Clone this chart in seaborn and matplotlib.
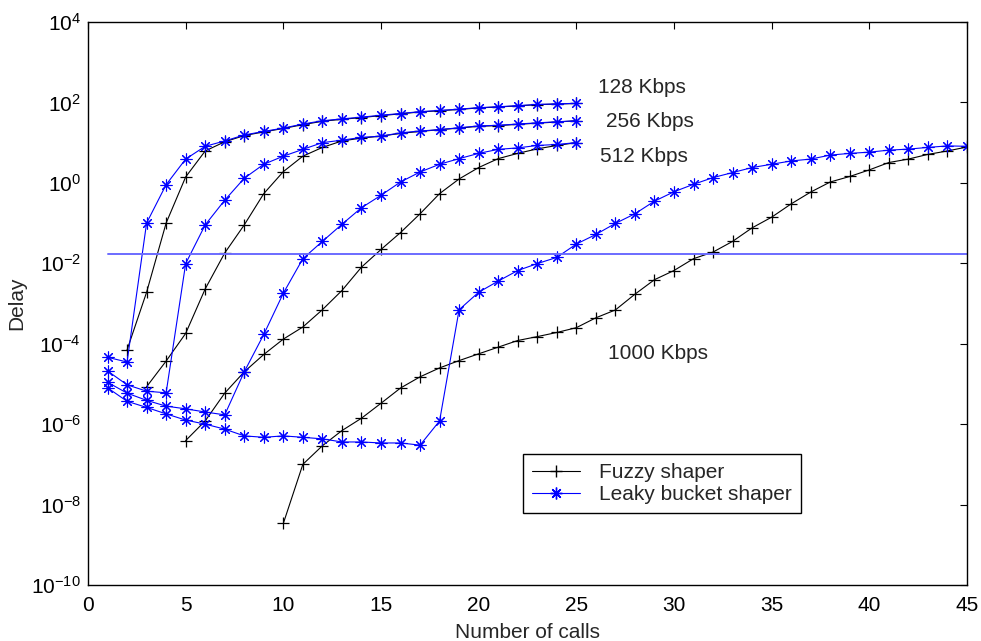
import matplotlib
matplotlib.use("Agg")
import matplotlib.pyplot as plt
from matplotlib.lines import Line2D
from matplotlib.ticker import NullLocator
import seaborn as sns

# delay vs number of calls, fuzzy shaper vs leaky bucket shaper
x_128_leaky = list(range(1, 26))
y_128_leaky = [4.6e-5, 3.5e-5, 0.1, 0.9, 3.9, 8.1, 11, 15.5, 19, 23, 29, 35, 39,
               43, 48, 53, 59, 63, 68, 74, 78, 83, 89, 92, 95]
x_128_fuzzy = list(range(2, 26))
y_128_fuzzy = [7e-5, 1.9e-3, 0.1, 1.4, 6.2, 10.5, 15, 18.5, 22.5, 28, 34, 38,
               42, 47, 52, 58, 62, 67, 73, 77, 82, 88, 91, 94]

x_256_leaky = list(range(1, 26))
y_256_leaky = [2.1e-5, 9.5e-6, 6.6e-6, 6e-6, 0.0098, 0.09, 0.37, 1.3, 2.9, 4.6,
               6.8, 10, 11.5, 13.5, 14.5, 17.5, 19.5, 21, 23.5, 26, 27, 29, 31,
               33, 35]
x_256_fuzzy = list(range(3, 26))
y_256_fuzzy = [8.5e-6, 3.7e-5, 1.8e-4, 2.3e-3, 0.018, 0.09, 0.54, 1.9, 4.6,
               7.6, 11, 13, 14.5, 17, 19, 21, 23, 25.5, 26.5, 28.5, 30.5, 32.5,
               35]

x_512_leaky = list(range(1, 26))
y_512_leaky = [1.1e-5, 5.9e-6, 3.9e-6, 2.8e-6, 2.4e-6, 2e-6, 1.7e-6, 2e-5,
               1.7e-4, 1.8e-3, 0.013, 0.035, 0.093, 0.24, 0.49, 1.05, 1.86,
               2.9, 4, 5.4, 6.8, 7.4, 8.5, 9, 10]
x_512_fuzzy = list(range(5, 26))
y_512_fuzzy = [3.9e-7, 1.2e-6, 5.9e-6, 2e-5, 5.4e-5, 1.3e-4, 2.6e-4, 7e-4,
               2.1e-3, 8e-3, 0.022, 0.058, 0.17, 0.54, 1.25, 2.4, 4, 5.4, 7,
               8.5, 10]

x_1000_leaky = list(range(1, 46))
y_1000_leaky = [8e-6, 3.7e-6, 2.6e-6, 1.8e-6, 1.26e-6, 1e-6, 7.5e-7, 5.1e-7,
                4.7e-7, 5.1e-7, 4.7e-7, 4.3e-7, 3.6e-7, 3.6e-7, 3.4e-7, 3.4e-7,
                3e-7, 1.2e-6, 7e-4, 1.9e-3, 3.6e-3, 6.6e-3, 9.8e-3, 0.014,
                0.03, 0.052, 0.098, 0.17, 0.35, 0.6, 0.92, 1.35, 1.8, 2.4, 2.9,
                3.5, 3.9, 4.9, 5.4, 5.8, 6.5, 6.9, 7.6, 8.3, 8.1]
x_1000_fuzzy = list(range(10, 46))
y_1000_fuzzy = [3.4e-9, 1e-7, 2.9e-7, 6.9e-7, 1.4e-6, 3.3e-6, 7.9e-6, 1.5e-5,
                2.5e-5, 3.8e-5, 5.6e-5, 8.2e-5, 1.2e-4, 1.5e-4, 1.9e-4, 2.5e-4,
                4.4e-4, 6.9e-4, 1.7e-3, 3.9e-3, 6.6e-3, 0.013, 0.019, 0.035,
                0.076, 0.14, 0.3, 0.59, 1.05, 1.44, 2.1, 3.2, 3.9, 5.1, 6.2, 7.8]

# target delay line
x_target = [1, 45]
y_target = [0.017, 0.017]

rate_labels = ["128 Kbps", "256 Kbps", "512 Kbps", "1000 Kbps"]
label_x = [26.1, 26.5, 26.2, 26.6]
label_y = [240, 34, 4.4, 5.8e-5]

ytick_exp = [-10, -8, -6, -4, -2, 0, 2, 4]
xticks = [0, 5, 10, 15, 20, 25, 30, 35, 40, 45]

FS = 15

sns.set_style("white")
plt.rcParams["font.family"] = ["Liberation Sans", "DejaVu Sans"]
plt.rcParams["mathtext.fontset"] = "custom"
plt.rcParams["mathtext.rm"] = "Liberation Sans"
plt.rcParams["mathtext.it"] = "Liberation Sans"
plt.rcParams["mathtext.default"] = "regular"

fig = plt.figure(figsize=(9.81, 6.41), dpi=100)
ax = fig.add_axes([0.0897, 0.0874, 0.8960, 0.8783])

fuzzy = [(x_128_fuzzy, y_128_fuzzy), (x_256_fuzzy, y_256_fuzzy),
         (x_512_fuzzy, y_512_fuzzy), (x_1000_fuzzy, y_1000_fuzzy)]
leaky = [(x_128_leaky, y_128_leaky), (x_256_leaky, y_256_leaky),
         (x_512_leaky, y_512_leaky), (x_1000_leaky, y_1000_leaky)]

star = (8, 2, 0)

for xs, ys in fuzzy:
    sns.lineplot(x=xs, y=ys, ax=ax, color="black", linewidth=0.8,
                 marker="+", markersize=9, markeredgewidth=0.9,
                 markeredgecolor="black", estimator=None, sort=False)

for xs, ys in leaky:
    sns.lineplot(x=xs, y=ys, ax=ax, color="#0000ff", linewidth=0.8,
                 marker=star, markersize=8.5, markeredgewidth=0.8,
                 markeredgecolor="#0000ff", estimator=None, sort=False)

sns.lineplot(x=x_target, y=y_target, ax=ax, color="#6b6bff", linewidth=1.4,
             estimator=None)

for txt, tx, ty in zip(rate_labels, label_x, label_y):
    ax.text(tx, ty, txt, fontsize=FS, va="center", ha="left")

ax.set_yscale("log")
ax.set_xlim(0, 45)
ax.set_ylim(1e-10, 1e4)
ax.set_xticks(xticks)
ax.set_xticklabels([str(t) for t in xticks])
ax.set_yticks([10.0 ** e for e in ytick_exp])
ax.set_yticklabels([r"$10^{%d}$" % e for e in ytick_exp])
ax.yaxis.set_minor_locator(NullLocator())
ax.tick_params(direction="in", top=True, right=True, length=5, width=0.8,
               labelsize=FS, colors="black")
ax.tick_params(axis="x", pad=8)
ax.tick_params(axis="y", pad=5)

for sp in ax.spines.values():
    sp.set_visible(True)
    sp.set_color("black")
    sp.set_linewidth(1.0)

ax.set_xlabel("Number of calls", fontsize=FS, labelpad=6)
ax.set_ylabel("Delay", fontsize=FS, labelpad=4)

handles = [
    Line2D([], [], color="black", linewidth=0.8, marker="+", markersize=9),
    Line2D([], [], color="#0000ff", linewidth=0.8, marker=star, markersize=8.5),
]
leg = ax.legend(handles, ["Fuzzy shaper", "Leaky bucket shaper"],
                loc="lower left", bbox_to_anchor=(0.495, 0.127),
                fontsize=FS, frameon=True, fancybox=False, framealpha=1,
                edgecolor="black", borderpad=0.45, handlelength=2.3,
                handletextpad=0.9, labelspacing=0.15, borderaxespad=0)
leg.get_frame().set_linewidth(1.0)

fig.savefig("out.png", dpi=100)
